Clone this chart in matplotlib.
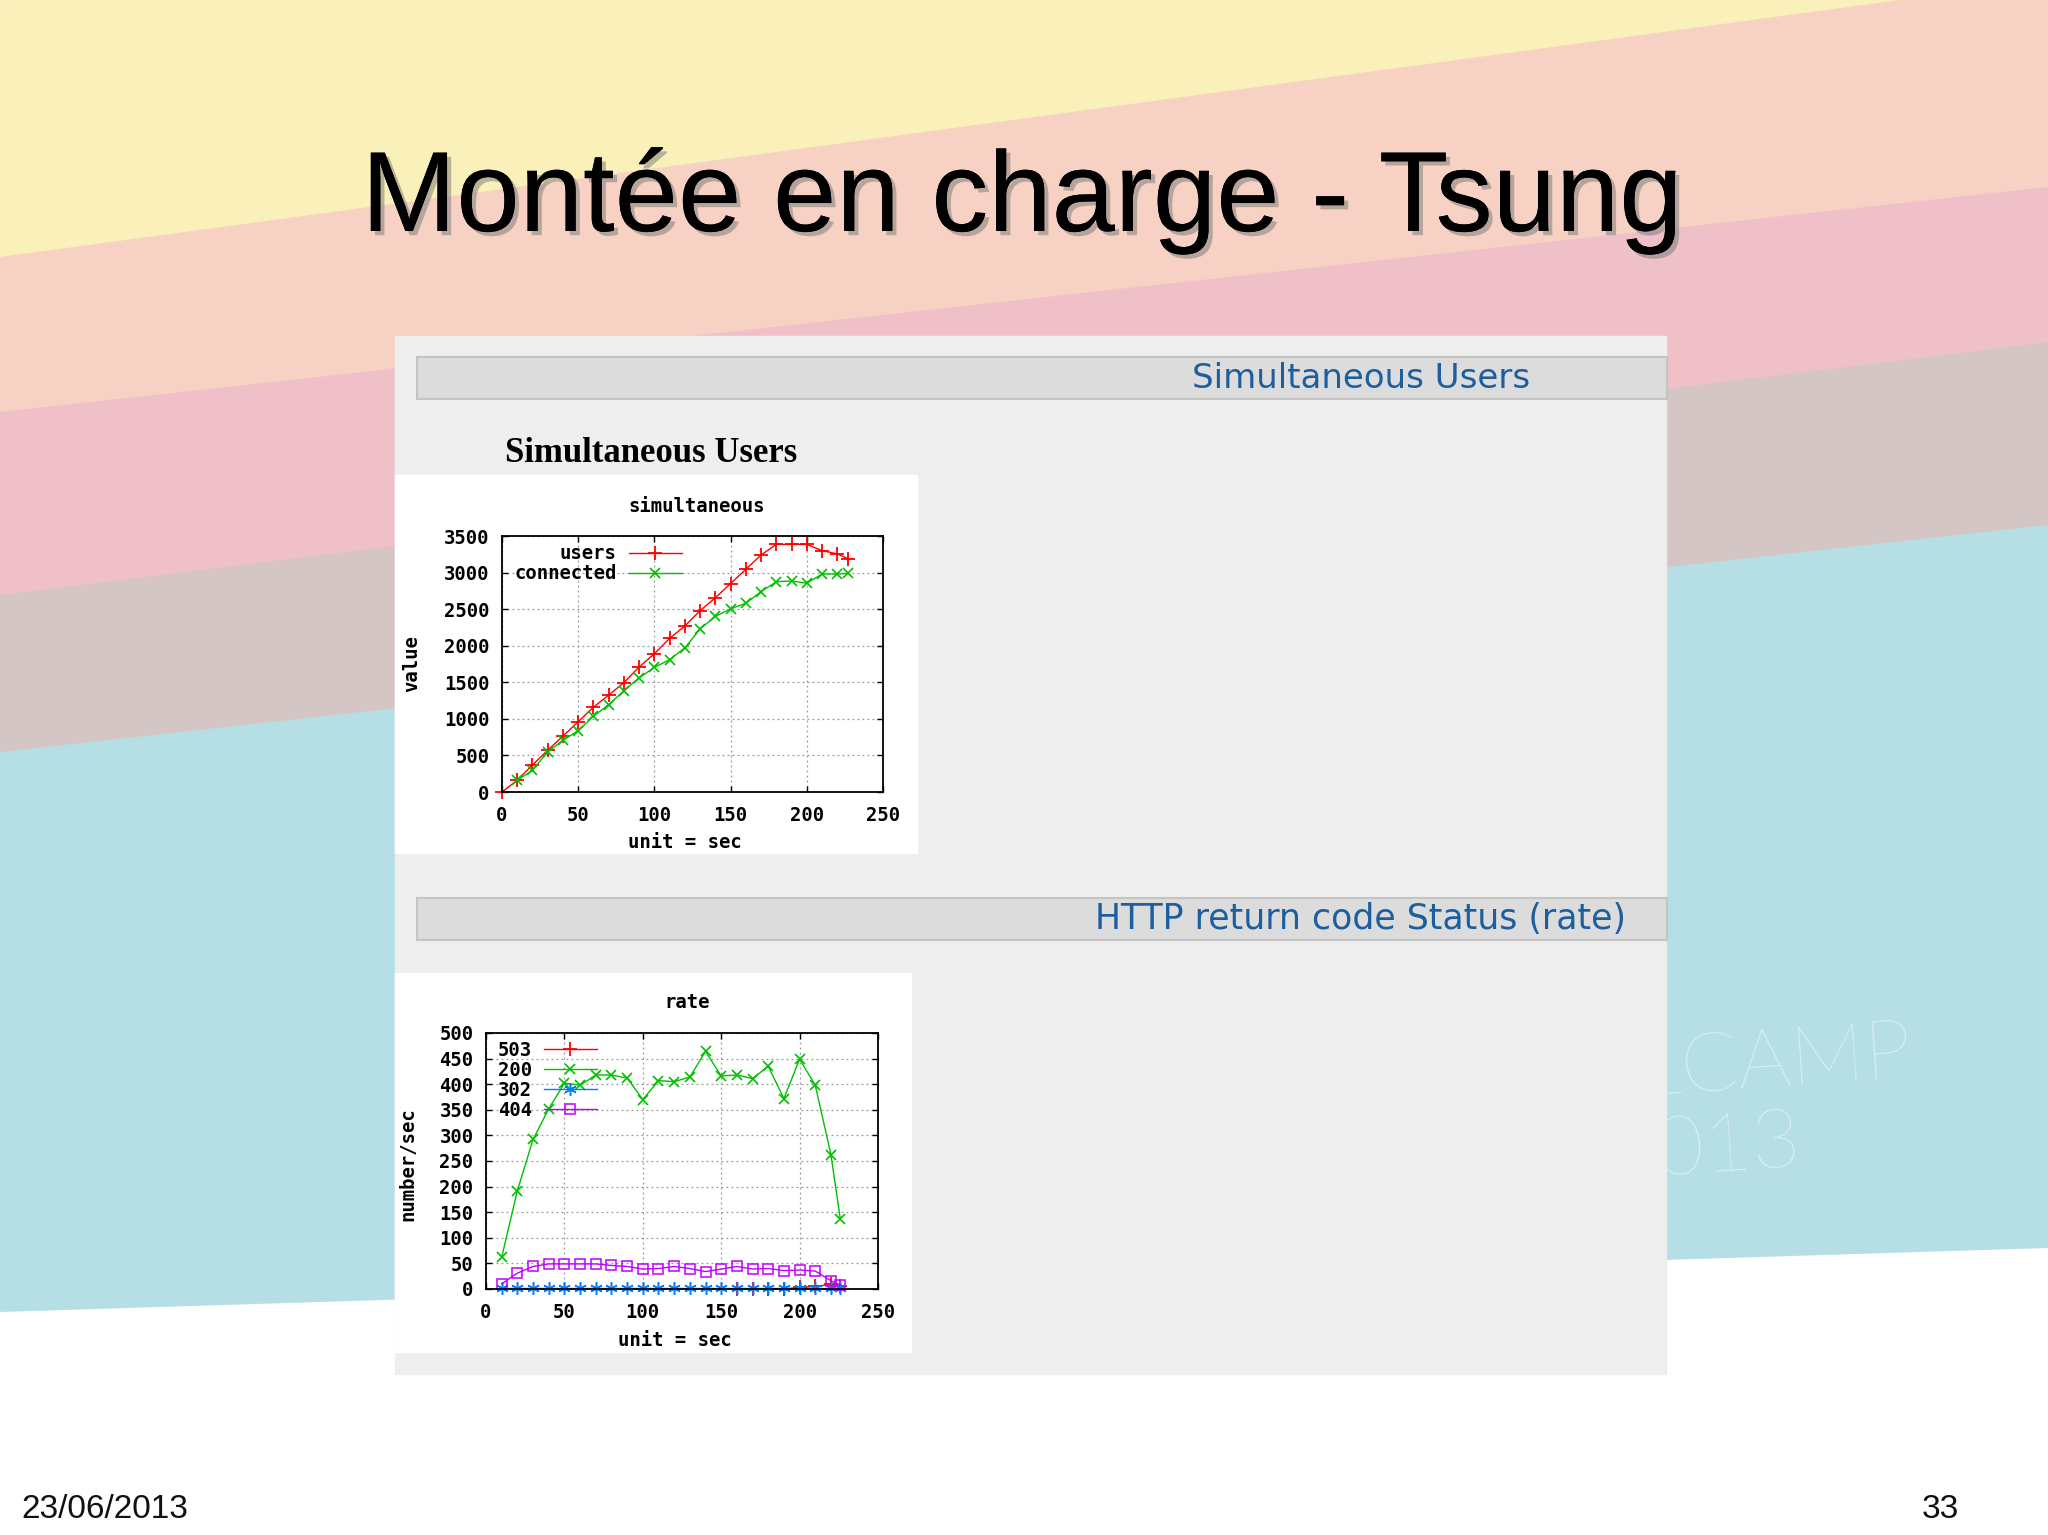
import matplotlib
matplotlib.use('Agg')
import matplotlib.pyplot as plt
import matplotlib.patheffects as pe
from matplotlib.patches import Polygon, Rectangle

W, H = 2048, 1535

# --- values (tsung report) ---
users_t = [0, 10, 20, 30, 40, 50, 60, 70, 80, 90, 100, 110, 120, 130, 140, 150,
           160, 170, 180, 190, 200, 210, 220, 227]
users = [0, 160, 370, 570, 765, 960, 1160, 1325, 1495, 1710, 1890, 2100, 2270,
         2480, 2655, 2850, 3045, 3240, 3385, 3385, 3385, 3300, 3255, 3190]
connected_t = [10, 20, 30, 40, 50, 60, 70, 80, 90, 100, 110, 120, 130, 140, 150,
               160, 170, 180, 190, 200, 210, 220, 227]
connected = [160, 295, 550, 705, 840, 1035, 1195, 1385, 1560, 1705, 1810, 1970,
             2230, 2400, 2505, 2580, 2740, 2875, 2885, 2855, 2980, 2980, 2990]

rate_t = [10, 20, 30, 40, 50, 60, 70, 80, 90, 100, 110, 120, 130, 140, 150,
          160, 170, 180, 190, 200, 210, 220, 226]
code_200 = [62, 192, 292, 352, 402, 398, 418, 418, 412, 370, 407, 405, 414, 464,
            416, 418, 411, 435, 372, 449, 398, 262, 136]
code_404 = [10, 31, 44, 49, 49, 49, 49, 46, 44, 39, 40, 44, 40, 34, 39, 44, 39,
            40, 36, 37, 35, 16, 8]
code_302 = [2, 2, 2, 2, 2, 2, 2, 2, 2, 2, 2, 2, 2, 2, 2, 2, 2, 2, 2, 2, 2, 2, 2]
code_503_t = [160, 170, 180, 190, 200, 210, 220, 226]
code_503 = [0, 0, 0, 0, 3, 5, 9, 5]

plt.rcParams['font.family'] = 'DejaVu Sans Mono'
plt.rcParams['font.weight'] = 'bold'
GP_SIZE = 13.6

fig = plt.figure(figsize=(W / 100, H / 100), dpi=100)


def box(x0, y0, x1, y1):
    return [x0 / W, 1 - y1 / H, (x1 - x0) / W, (y1 - y0) / H]


# slide background in pixel coordinates
bg = fig.add_axes([0, 0, 1, 1])
bg.set_xlim(0, W)
bg.set_ylim(H, 0)
bg.axis('off')
bg.add_patch(Rectangle((0, 0), W, H, color='#faf0b9', zorder=0))
bands = [((257, -20), '#f7d1c3'),
         ((412, 187), '#efc0c7'),
         ((595, 342), '#d4c6c4'),
         ((752, 525), '#b6dfe5'),
         ((1312, 1248), '#ffffff')]
for (yl, yr), col in bands:
    bg.add_patch(Polygon([(0, yl), (W, yr), (W, H + 10), (0, H + 10)],
                         closed=True, color=col, lw=0, zorder=0))

bg.text(1913, 1077, 'DRUPALCAMP', family='Lato', weight='light', fontsize=60,
        color='white', alpha=0.6, ha='right', va='baseline', rotation=4,
        rotation_mode='anchor', zorder=1)
bg.text(1802, 1166, 'LYON 2013', family='Lato', weight='light', fontsize=60,
        color='white', alpha=0.6, ha='right', va='baseline', rotation=4,
        rotation_mode='anchor', zorder=1)

# the report page
bg.add_patch(Rectangle((395, 336), 1271, 1038, color='#efeeef', zorder=2))
for y0 in (357, 898):
    bg.add_patch(Rectangle((417, y0), 1250, 42, facecolor='#dddcdd',
                           edgecolor='#c4c4c4', lw=1.5, zorder=3))
bg.add_patch(Rectangle((395, 475), 522, 378, color='white', zorder=3))
bg.add_patch(Rectangle((395, 973), 516, 379, color='white', zorder=3))

bg.text(1530, 378, 'Simultaneous Users', family='DejaVu Sans', weight='normal',
        fontsize=24.5, color='#1b5f9e', ha='right', va='center', zorder=4)
bg.text(1626, 919, 'HTTP return code Status (rate)', family='DejaVu Sans',
        weight='normal', fontsize=25, color='#1b5f9e', ha='right',
        va='center', zorder=4)
bg.text(505, 453, 'Simultaneous Users', family='Liberation Serif', weight='bold',
        fontsize=25, color='black', ha='left', va='center', zorder=4)

bg.text(1022, 231, 'Montée en charge - Tsung', family='Liberation Sans',
        weight='normal', fontsize=82, color='black', ha='center',
        va='baseline', zorder=4,
        path_effects=[pe.withSimplePatchShadow(offset=(3, -3),
                                               shadow_rgbFace='#777777',
                                               alpha=0.5), pe.Normal()])
bg.text(21, 1509, '23/06/2013', family='Liberation Sans', weight='normal',
        fontsize=24, color='#111111', ha='left', va='center', zorder=4)
bg.text(1959, 1509, '33', family='Liberation Sans', weight='normal',
        fontsize=24, color='#111111', ha='right', va='center', zorder=4)

# gnuplot-like labels
lab = dict(fontsize=GP_SIZE, ha='center', va='center', zorder=4)
bg.text(697, 506, 'simultaneous', **lab)
bg.text(685, 843, 'unit = sec', **lab)
bg.text(412, 664, 'value', rotation=90, **lab)
bg.text(687, 1003, 'rate', **lab)
bg.text(675, 1340, 'unit = sec', **lab)
bg.text(408, 1164, 'number/sec', rotation=90, **lab)


def style(ax, ymax, ystep):
    ax.set_xlim(0, 250)
    ax.set_ylim(0, ymax)
    ax.set_xticks(range(0, 251, 50))
    ax.set_yticks(range(0, ymax + 1, ystep))
    ax.tick_params(direction='in', top=True, right=True, length=4, width=1,
                   labelsize=GP_SIZE, pad=9)
    ax.tick_params(axis='x', pad=10)
    ax.grid(True, color='#999999', linestyle=(0, (1.5, 2.5)), linewidth=0.9)
    for s in ax.spines.values():
        s.set_linewidth(1.3)
    ax.set_zorder(5)


legend_font = {'family': 'DejaVu Sans Mono', 'weight': 'bold', 'size': GP_SIZE}

ax1 = fig.add_axes(box(502, 536, 883, 792))
style(ax1, 3500, 500)
ax1.plot(users_t, users, color='#ff0000', lw=1.0, marker='+', ms=10, mew=1.3,
         label='users', clip_on=False)
ax1.plot(connected_t, connected, color='#00c000', lw=1.0, marker='x', ms=7.5,
         mew=1.2, label='connected', clip_on=False)
ax1.legend(loc='upper right', bbox_to_anchor=(0.472, 0.968), markerfirst=False,
           frameon=False, handlelength=2.8, handletextpad=0.65,
           labelspacing=0.05, borderpad=0, borderaxespad=0, numpoints=1,
           prop=legend_font)

ax2 = fig.add_axes(box(486, 1033, 878, 1289))
style(ax2, 500, 50)
ax2.plot(code_503_t, code_503, color='#ff0000', lw=1.0, marker='+', ms=10,
         mew=1.3, label='503', clip_on=False)
ax2.plot(rate_t, code_200, color='#00c000', lw=1.0, marker='x', ms=7.5, mew=1.2,
         label='200', clip_on=False)
ax2.plot(rate_t, code_302, color='#0080ff', lw=1.0, marker=(6, 2, 0), ms=9,
         mew=1.1, label='302', clip_on=False)
ax2.plot(rate_t, code_404, color='#c000ff', lw=1.0, marker='s', ms=7.5,
         mew=1.1, mfc='none', label='404', clip_on=False)
ax2.legend(loc='upper right', bbox_to_anchor=(0.283, 0.969), markerfirst=False,
           frameon=False, handlelength=2.8, handletextpad=0.65,
           labelspacing=0.05, borderpad=0, borderaxespad=0, numpoints=1,
           prop=legend_font)

fig.savefig('out.png', dpi=100)
